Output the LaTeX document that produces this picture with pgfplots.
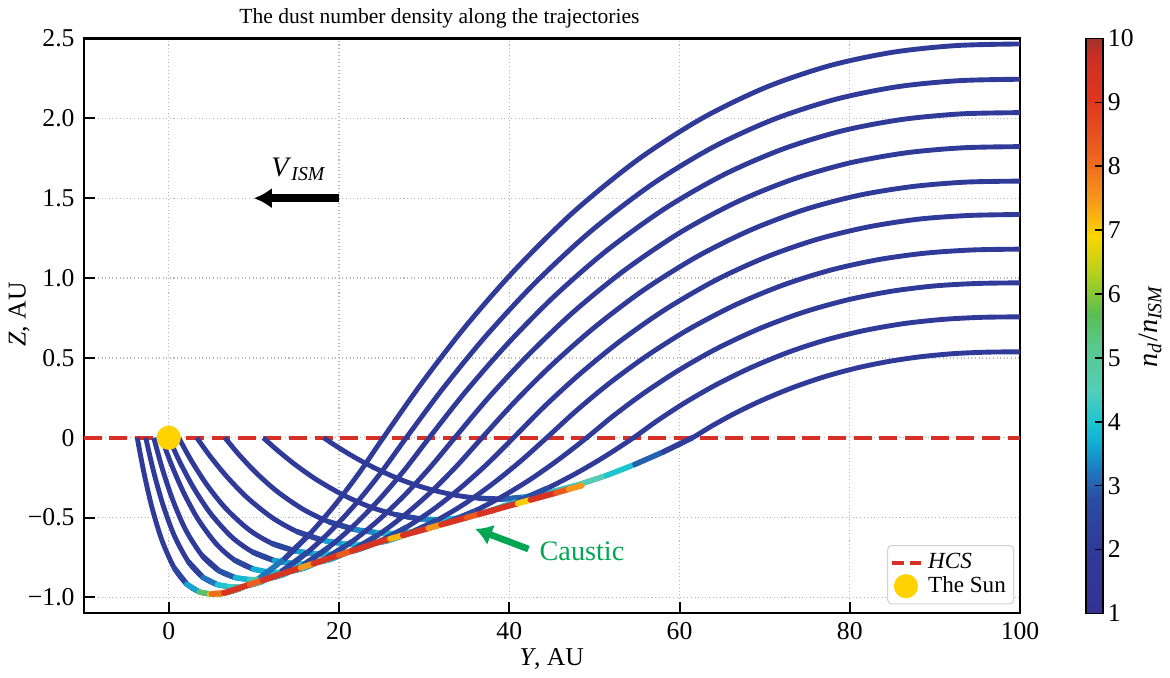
\documentclass[border=0pt]{standalone}
\usepackage{fontspec}
\setmainfont{Liberation Serif}
\usepackage{pgfplots}
\usepackage{pgfplotstable}
\pgfplotsset{compat=1.18}
\usetikzlibrary{arrows.meta}

\definecolor{hcsred}{RGB}{214,48,39}
\definecolor{sunyellow}{RGB}{255,210,0}
\definecolor{cgreen}{RGB}{0,166,81}
\definecolor{trajblue}{RGB}{48,58,152}

% jet-like map for n_d/n_ISM from 1 (0pt) to 10 (90pt)
\pgfplotsset{colormap={dust}{
  rgb255(0pt)=(52,50,146);
  rgb255(10pt)=(48,58,152);
  rgb255(18pt)=(42,76,162);
  rgb255(23pt)=(28,128,196);
  rgb255(27pt)=(16,176,212);
  rgb255(30pt)=(30,196,208);
  rgb255(35pt)=(84,206,184);
  rgb255(42pt)=(88,200,140);
  rgb255(47pt)=(90,190,80);
  rgb255(53pt)=(176,208,30);
  rgb255(59pt)=(252,214,0);
  rgb255(65pt)=(246,150,26);
  rgb255(72pt)=(236,96,30);
  rgb255(80pt)=(224,56,30);
  rgb255(87pt)=(206,46,36);
  rgb255(90pt)=(160,52,44)
}}

\pgfplotsset{
  base/.style={smooth, trajblue, line width=1.9pt, forget plot},
  traj/.style={mesh, shader=flat corner, point meta=explicit,
    line width=2.1pt, line cap=round, line join=round, forget plot}}

% trajectories: Y, Z, n_d/n_ISM
\pgfplotstableread{
Y Z n
18.2 0 2
19.864 -0.059 2
21.944 -0.126 2
24.44 -0.196 2
27.56 -0.269 2
30.68 -0.323 2
33.8 -0.361 2
36.504 -0.379 2.3
39 -0.385 3
41.7 -0.372 3.8
44.625 -0.343 4.2
48.0 -0.296 4.6
51.375 -0.237 4
54.75 -0.167 3
58.125 -0.088 2.2
61.5 0 2
63.81 0.074 2
66.505 0.153 2
69.585 0.232 2
73.05 0.309 2
76.9 0.380 2
80.75 0.436 2
84.6 0.478 2
88.45 0.508 2
92.3 0.527 2
96.15 0.536 2
100 0.538 2
}\trajJ
\pgfplotstableread{
Y Z n
11.1 0 2
12.772 -0.079 2
14.862 -0.169 2
17.37 -0.263 2
20.505 -0.359 2
23.64 -0.433 2
26.775 -0.483 2.6
29.492 -0.508 3.4
32 -0.515 3.9
34.712 -0.498 4.2
37.65 -0.459 3.8
41.04 -0.396 2.8
44.43 -0.317 2
47.82 -0.224 2
51.21 -0.118 2
54.6 0 2
57.32 0.104 2
60.50 0.215 2
64.13 0.327 2
68.22 0.435 2
72.76 0.535 2
77.3 0.614 2
81.84 0.673 2
86.38 0.715 2
90.92 0.741 2
95.46 0.754 2
100 0.757 2
}\trajI
\pgfplotstableread{
Y Z n
6.6 0 2
8.232 -0.105 2
10.272 -0.220 2
12.72 -0.336 2
15.78 -0.448 2
18.84 -0.527 2.5
21.9 -0.575 3.4
24.552 -0.595 3.9
27 -0.60 4.2
29.652 -0.580 3.9
32.525 -0.535 2.8
35.84 -0.461 2
39.155 -0.369 2
42.47 -0.261 2
45.785 -0.137 2
49.1 0 2
52.15 0.134 2
55.72 0.276 2
59.79 0.419 2
64.37 0.558 2
69.46 0.685 2
74.55 0.786 2
79.64 0.862 2
84.73 0.916 2
89.82 0.950 2
94.91 0.966 2
100 0.970 2
}\trajH
\pgfplotstableread{
Y Z n
3.3 0 2
4.876 -0.117 2
6.846 -0.245 2
9.21 -0.375 2
12.165 -0.501 2
15.12 -0.589 2.5
18.075 -0.642 3.6
20.636 -0.665 4
23 -0.67 4.2
25.568 -0.6475 3.8
28.35 -0.597 2.6
31.56 -0.515 2
34.77 -0.413 2
37.98 -0.291 2
41.19 -0.153 2
44.4 0 2
47.74 0.163 2
51.63 0.336 2
56.08 0.510 2
61.08 0.679 2
66.64 0.834 2
72.2 0.957 2
77.76 1.050 2
83.32 1.115 2
88.88 1.156 2
94.44 1.176 2
100 1.181 2
}\trajG
\pgfplotstableread{
Y Z n
1.17 0 2
2.636 -0.142 2
4.469 -0.294 2
6.669 -0.441 2
9.419 -0.576 2
12.168 -0.663 2.5
14.918 -0.710 3.6
17.3 -0.727 4
19.5 -0.73 4.2
22.02 -0.705 3.8
24.75 -0.651 2.6
27.9 -0.561 2
31.05 -0.450 2
34.2 -0.317 2
37.35 -0.167 2
40.5 0 2
44.07 0.193 2
48.24 0.397 2
52.995 0.604 2
58.35 0.804 2
64.3 0.988 2
70.25 1.133 2
76.2 1.243 2
82.15 1.320 2
88.1 1.369 2
94.05 1.392 2
100 1.398 2
}\trajF
\pgfplotstableread{
Y Z n
0 0 2
1.32 -0.154 2
2.97 -0.318 2
4.95 -0.477 2
7.425 -0.623 2
9.9 -0.717 2.5
12.375 -0.769 3.6
14.52 -0.787 4
16.5 -0.79 4.2
18.936 -0.763 3.8
21.575 -0.704 2.6
24.62 -0.608 2
27.665 -0.486 2
30.71 -0.344 2
33.755 -0.181 2
36.8 0 2
40.59 0.222 2
45.02 0.457 2
50.07 0.694 2
55.76 0.924 2
62.08 1.135 2
68.4 1.302 2
74.72 1.429 2
81.04 1.518 2
87.36 1.573 2
93.68 1.601 2
100 1.607 2
}\trajE
\pgfplotstableread{
Y Z n
-0.86 0 2
0.289 -0.165 2
1.725 -0.341 2
3.448 -0.511 2
5.602 -0.666 2
7.756 -0.767 2.6
9.91 -0.822 3.7
11.777 -0.842 4
13.5 -0.845 4.2
15.912 -0.817 3.8
18.525 -0.753 2.6
21.54 -0.650 2
24.555 -0.520 2
27.57 -0.367 2
30.585 -0.193 2
33.6 0 2
37.58 0.252 2
42.23 0.518 2
47.54 0.788 2
53.52 1.048 2
60.16 1.288 2
66.8 1.478 2
73.44 1.621 2
80.08 1.722 2
86.72 1.785 2
93.36 1.816 2
100 1.823 2
}\trajD
\pgfplotstableread{
Y Z n
-1.76 0 2
-0.739 -0.197 2
0.537 -0.399 2
2.068 -0.585 2
3.982 -0.742 2.2
5.896 -0.833 2.9
7.81 -0.876 3.8
9.469 -0.888 4.2
11 -0.89 4.2
13.352 -0.86 3.8
15.9 -0.793 2.6
18.84 -0.684 2
21.78 -0.548 2
24.72 -0.387 2
27.66 -0.204 2
30.6 0 2
34.76 0.281 2
39.62 0.578 2
45.17 0.880 2
51.42 1.171 2
58.36 1.438 2
65.3 1.650 2
72.24 1.810 2
79.18 1.923 2
86.12 1.993 2
93.06 2.028 2
100 2.036 2
}\trajC
\pgfplotstableread{
Y Z n
-2.7 0 2
-1.804 -0.207 2
-0.684 -0.419 2
0.66 -0.614 2
2.34 -0.779 2.3
4.02 -0.875 3.2
5.7 -0.92 4
7.156 -0.933 4.3
8.5 -0.935 4.3
10.828 -0.904 3.8
13.35 -0.833 2.6
16.26 -0.719 2
19.17 -0.576 2
22.08 -0.407 2
24.99 -0.214 2
27.9 0 2
32.23 0.310 2
37.27 0.638 2
43.04 0.970 2
49.53 1.291 2
56.74 1.586 2
63.95 1.820 2
71.16 1.996 2
78.37 2.120 2
85.58 2.198 2
92.79 2.236 2
100 2.245 2
}\trajB
\pgfplotstableread{
Y Z n
-3.7 0 2
-2.924 -0.217 2
-1.954 -0.440 2
-0.79 -0.644 2
0.665 -0.817 2.6
2.12 -0.917 3.6
3.575 -0.965 5.5
4.836 -0.978 6.8
6 -0.98 6
8.304 -0.947 5
10.8 -0.873 3.2
13.68 -0.754 2.2
16.56 -0.603 2
19.44 -0.426 2
22.32 -0.224 2
25.2 0 2
29.69 0.340 2
34.92 0.701 2
40.91 1.065 2
47.64 1.418 2
55.12 1.742 2
62.6 1.999 2
70.08 2.193 2
77.56 2.329 2
85.04 2.414 2
92.52 2.456 2
100 2.466 2
}\trajA
% caustic
\pgfplotstableread{
Y Z n
5.0 -0.978 8
6.5 -0.972 9.3
8.0 -0.946 9.3
9.5 -0.919 8.2
11.0 -0.893 9.3
12.5 -0.866 9.3
14.0 -0.840 9.3
15.5 -0.814 7.5
17.0 -0.788 9.3
18.5 -0.761 9.3
20.0 -0.735 8.3
21.5 -0.709 9.3
23.0 -0.683 9.3
24.6 -0.654 9.3
26.0 -0.633 7.2
27.5 -0.611 9.3
29.0 -0.589 9.3
30.5 -0.567 7.5
32.0 -0.544 9.3
33.5 -0.522 9.3
35.0 -0.500 8.3
36.5 -0.478 9.3
38.0 -0.456 9.3
39.5 -0.433 9.3
41.0 -0.411 7
42.5 -0.389 9.3
44.0 -0.367 9.3
45.5 -0.345 8.3
47.0 -0.322 7.5
48.5 -0.300 6.5
}\caustic

\begin{document}
\begin{tikzpicture}
\begin{axis}[
  scale only axis, width=12.82cm, height=7.87cm,
  xmin=-10, xmax=100, ymin=-1.1, ymax=2.5,
  xtick={0,20,40,60,80,100}, xticklabels={0,20,40,60,80,100},
  ytick={-1,-0.5,0,0.5,1,1.5,2,2.5},
  yticklabels={−1.0,−0.5,0,0.5,1.0,1.5,2.0,2.5},
  tick pos=left, tick align=inside, major tick length=4.5pt,
  grid=major, grid style={densely dotted, black!28, line width=0.5pt},
  axis line style={line width=0.8pt},
  tick style={black, line width=0.8pt},
  ticklabel style={font=\fontsize{10}{12}\selectfont},
  xlabel={\textit{Y}, AU}, ylabel={\textit{Z}, AU},
  label style={font=\fontsize{10}{12}\selectfont},
  xlabel style={yshift=3.5pt},
  ylabel style={at={(axis description cs:-0.069,0.52)}, anchor=center},
  title={The dust number density along the trajectories},
  title style={at={(axis description cs:0.38,1)}, anchor=south, font=\fontsize{8.4}{10}\selectfont, yshift=-5.5pt},
  colormap name=dust, point meta min=1, point meta max=10,
  colorbar,
  colorbar style={at={(parent axis.north east)}, anchor=north west, xshift=0.6cm,
    width=6.6pt, ytick={1,2,3,4,5,6,7,8,9,10},
    yticklabels={1,2,3,4,5,6,7,8,9,10}, ytick pos=right,
    ticklabel style={font=\fontsize{10}{12}\selectfont, xshift=-1.5pt},
    major tick length=3pt, tick style={black, line width=0.6pt},
    axis line style={line width=0.6pt},
    ylabel={\textit{n}\textsubscript{\textit{d}}/\textit{n}\textsubscript{\textit{ISM}}},
    ylabel shift=-5pt,
    ylabel style={font=\fontsize{11}{13}\selectfont}},
  legend style={at={(0.9936,0.0157)}, anchor=south east, draw=black!18,
    rounded corners=1.5pt, fill=white, font=\fontsize{9}{11}\selectfont,
    inner sep=1pt, row sep=-2.5pt},
  legend image code/.code={\draw[mark repeat=2, mark phase=2, #1]
    plot coordinates {(0cm,0cm) (0.19cm,0cm) (0.38cm,0cm)};},
  legend cell align=left,
]

\addplot[hcsred, line width=1.4pt, dash pattern=on 7pt off 3pt,
  legend image code/.code={\draw[hcsred, line width=1.4pt] (0cm,0cm) -- (0.16cm,0cm) (0.24cm,0cm) -- (0.40cm,0cm);}]
  coordinates {(-10,0) (100,0)};
\addlegendentry{\textit{HCS}}
\addplot[only marks, mark=*, mark size=4.5pt, mark options={draw=sunyellow, fill=sunyellow}] coordinates {(0,0)};
\addlegendentry{The Sun}

\addplot[base] table[x=Y, y=Z] {\trajJ};
\addplot[traj, restrict x to domain=36.5:61.6] table[x=Y, y=Z, meta=n] {\trajJ};
\addplot[base] table[x=Y, y=Z] {\trajI};
\addplot[traj, restrict x to domain=26.7:44.5] table[x=Y, y=Z, meta=n] {\trajI};
\addplot[base] table[x=Y, y=Z] {\trajH};
\addplot[traj, restrict x to domain=18.8:35.9] table[x=Y, y=Z, meta=n] {\trajH};
\addplot[base] table[x=Y, y=Z] {\trajG};
\addplot[traj, restrict x to domain=15.1:31.6] table[x=Y, y=Z, meta=n] {\trajG};
\addplot[base] table[x=Y, y=Z] {\trajF};
\addplot[traj, restrict x to domain=12.1:28] table[x=Y, y=Z, meta=n] {\trajF};
\addplot[base] table[x=Y, y=Z] {\trajE};
\addplot[traj, restrict x to domain=9.8:24.7] table[x=Y, y=Z, meta=n] {\trajE};
\addplot[base] table[x=Y, y=Z] {\trajD};
\addplot[traj, restrict x to domain=7.7:21.6] table[x=Y, y=Z, meta=n] {\trajD};
\addplot[base] table[x=Y, y=Z] {\trajC};
\addplot[traj, restrict x to domain=3.9:18.9] table[x=Y, y=Z, meta=n] {\trajC};
\addplot[base] table[x=Y, y=Z] {\trajB};
\addplot[traj, restrict x to domain=2.3:16.3] table[x=Y, y=Z, meta=n] {\trajB};
\addplot[base] table[x=Y, y=Z] {\trajA};
\addplot[traj, restrict x to domain=0.6:16.6] table[x=Y, y=Z, meta=n] {\trajA};
\addplot[traj, line width=2.3pt] table[x=Y, y=Z, meta=n] {\caustic};

\draw[-{Latex[length=7pt,width=8pt]}, line width=3.1pt, black] (axis cs:20,1.5) -- (axis cs:10,1.5);
\node[font=\fontsize{11}{13}\selectfont] at (axis cs:15.3,1.68) {\textit{V}\textsubscript{\textit{ISM}}};
\draw[-{Latex[length=6.5pt,width=8.5pt]}, line width=2.6pt, cgreen] (axis cs:42.25,-0.697) -- (axis cs:36.0,-0.571);
\node[cgreen, anchor=west, font=\fontsize{11}{13}\selectfont] at (axis cs:42.5,-0.714) {Caustic};
\end{axis}
\end{tikzpicture}
\end{document}
